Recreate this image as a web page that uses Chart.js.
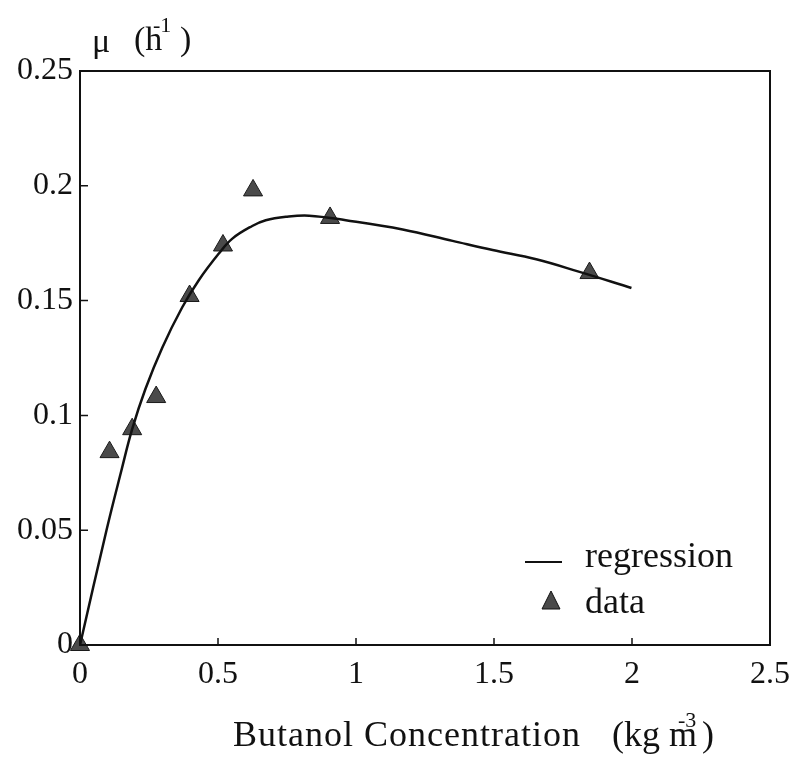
<!DOCTYPE html>
<html>
<head>
<meta charset="utf-8">
<script src="https://cdn.jsdelivr.net/npm/chart.js@4.4.0/dist/chart.umd.min.js"></script>
<style>
  html, body { margin: 0; padding: 0; background: #fff; }
  #wrap { width: 800px; height: 757px; }
</style>
</head>
<body>
<div id="wrap"><canvas id="muChart"></canvas></div>
<script>
// measured specific growth rate (triangles)
const dataConc = [0, 0.107, 0.189, 0.276, 0.397, 0.518, 0.627, 0.906, 1.846];
const dataMu   = [0, 0.084, 0.094, 0.108, 0.152, 0.174, 0.198, 0.186, 0.162];

// regression curve
const fitConc = [0, 0.096, 0.150, 0.189, 0.237, 0.298, 0.370, 0.431, 0.503, 0.552, 0.624,
                 0.673, 0.746, 0.830, 0.963, 1.169, 1.350, 1.495, 1.653, 1.810, 1.998];
const fitMu   = [0, 0.050, 0.076, 0.094, 0.1115, 0.1295, 0.147, 0.159, 0.1705, 0.177, 0.1825,
                 0.185, 0.1865, 0.187, 0.185, 0.181, 0.176, 0.172, 0.168, 0.1625, 0.1555];

const xTicks = [0, 0.5, 1, 1.5, 2, 2.5];
const xTickLabels = ['0', '0.5', '1', '1.5', '2', '2.5'];
const yTicks = [0, 0.05, 0.1, 0.15, 0.2, 0.25];
const yTickLabels = ['0', '0.05', '0.1', '0.15', '0.2', '0.25'];

const serif = "'Liberation Serif', 'Times New Roman', serif";

// box, inward ticks, axis titles and the legend
const framePlugin = {
    id: 'frame',
    afterDraw(chart) {
        const ctx = chart.ctx;
        const a = chart.chartArea;
        const xs = chart.scales.x, ys = chart.scales.y;
        ctx.save();
        ctx.strokeStyle = '#111';
        ctx.lineWidth = 2;
        ctx.strokeRect(a.left, a.top, a.right - a.left, a.bottom - a.top);

        ctx.lineWidth = 1.5;
        ctx.beginPath();
        xTicks.forEach(v => {
            const px = xs.getPixelForValue(v);
            ctx.moveTo(px, a.bottom);
            ctx.lineTo(px, a.bottom - 7);
        });
        yTicks.forEach(v => {
            const py = ys.getPixelForValue(v);
            ctx.moveTo(a.left, py);
            ctx.lineTo(a.left + 8, py);
        });
        ctx.stroke();

        ctx.fillStyle = '#111';
        ctx.textBaseline = 'alphabetic';
        ctx.textAlign = 'left';

        // y title: mu (h^-1)
        ctx.font = '34px ' + serif;
        ctx.fillText('\u03bc', 92, 52);
        ctx.fillText('(h', 134, 50);
        ctx.fillText(')', 180, 50);
        ctx.font = '22px ' + serif;
        ctx.fillText('-1', 153, 32);

        // x title: Butanol Concentration (kg m^-3)
        ctx.font = '36px ' + serif;
        ctx.letterSpacing = '1px';
        ctx.fillText('Butanol Concentration', 233, 746);
        ctx.letterSpacing = '0px';
        ctx.fillText('(kg m', 612, 746);
        ctx.fillText(')', 702, 746);
        ctx.font = '22px ' + serif;
        ctx.fillText('-3', 678, 727);

        // legend
        ctx.font = '36px ' + serif;
        ctx.fillText('regression', 585, 567);
        ctx.fillText('data', 585, 613);
        ctx.lineWidth = 2;
        ctx.beginPath();
        ctx.moveTo(525, 562);
        ctx.lineTo(562, 562);
        ctx.stroke();
        ctx.fillStyle = '#4a4a4a';
        ctx.beginPath();
        ctx.moveTo(551, 591);
        ctx.lineTo(560, 609);
        ctx.lineTo(542, 609);
        ctx.closePath();
        ctx.fill();
        ctx.lineWidth = 1;
        ctx.stroke();
        ctx.restore();
    }
};

new Chart(document.getElementById('muChart'), {
    type: 'scatter',
    data: {
        datasets: [{
            label: 'regression',
            data: fitConc.map((c, i) => ({ x: c, y: fitMu[i] })),
            showLine: true,
            borderColor: '#111',
            borderWidth: 2.5,
            pointRadius: 0,
            tension: 0.4,
            fill: false
        }, {
            label: 'data',
            data: dataConc.map((c, i) => ({ x: c, y: dataMu[i] })),
            pointStyle: 'triangle',
            pointRadius: 11,
            backgroundColor: '#4a4a4a',
            borderColor: '#1a1a1a',
            borderWidth: 1,
            clip: false
        }]
    },
    options: {
        responsive: true,
        maintainAspectRatio: false,
        animation: false,
        layout: { padding: { top: 71, right: 30, left: 0, bottom: 0 } },
        plugins: {
            legend: { display: false },
            tooltip: { enabled: false }
        },
        scales: {
            x: {
                type: 'linear',
                min: 0,
                max: 2.5,
                afterBuildTicks: s => { s.ticks = xTicks.map(v => ({ value: v })); },
                afterFit: s => { s.height = 112; },
                border: { display: false },
                grid: { display: false, drawTicks: false },
                ticks: {
                    padding: 10,
                    color: '#111',
                    font: { family: serif, size: 32 },
                    callback: (v, i) => xTickLabels[i]
                }
            },
            y: {
                min: 0,
                max: 0.25,
                afterBuildTicks: s => { s.ticks = yTicks.map(v => ({ value: v })); },
                afterFit: s => { s.width = 80; },
                border: { display: false },
                grid: { display: false, drawTicks: false },
                ticks: {
                    padding: 7,
                    color: '#111',
                    font: { family: serif, size: 32 },
                    callback: (v, i) => yTickLabels[i]
                }
            }
        }
    },
    plugins: [framePlugin]
});
</script>
</body>
</html>
